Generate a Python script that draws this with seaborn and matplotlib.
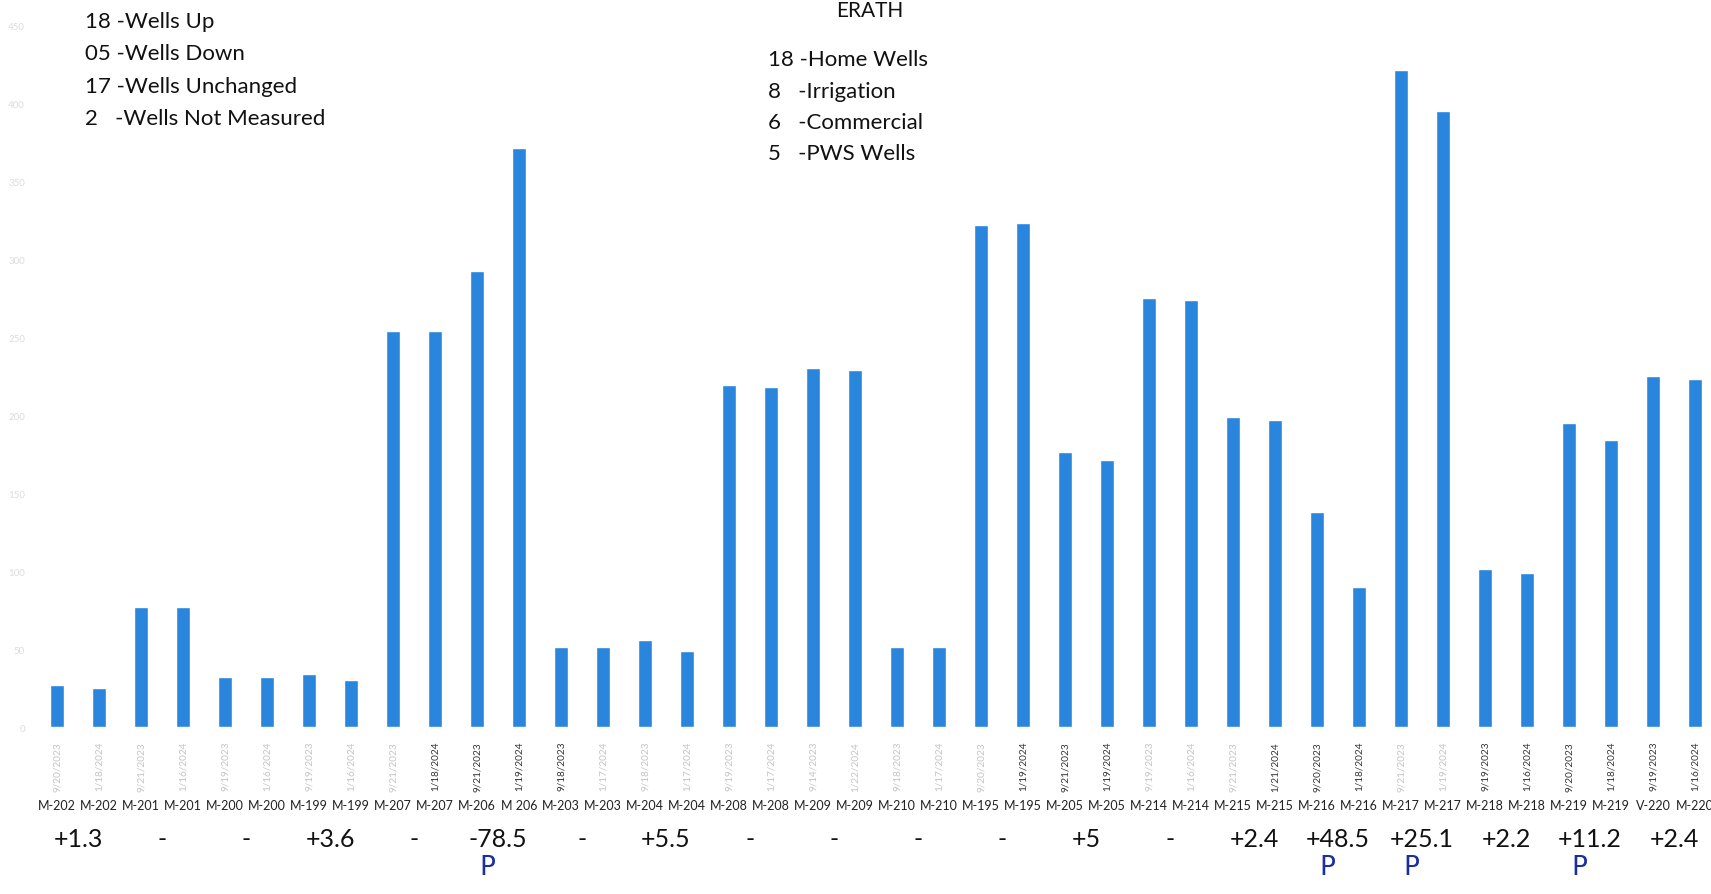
import matplotlib
matplotlib.use("Agg")
import matplotlib.pyplot as plt
import matplotlib.transforms as mtransforms
import seaborn as sns
import pandas as pd

wells = ["M-202", "M-202", "M-201", "M-201", "M-200", "M-200", "M-199", "M-199",
         "M-207", "M-207", "M-206", "M 206", "M-203", "M-203", "M-204", "M-204",
         "M-208", "M-208", "M-209", "M-209", "M-210", "M-210", "M-195", "M-195",
         "M-205", "M-205", "M-214", "M-214", "M-215", "M-215", "M-216", "M-216",
         "M-217", "M-217", "M-218", "M-218", "M-219", "M-219", "V-220", "M-220"]
dates = ["9/20/2023", "1/18/2024", "9/21/2023", "1/16/2024", "9/19/2023", "1/16/2024",
         "9/19/2023", "1/16/2024", "9/21/2023", "1/18/2024", "9/21/2023", "1/19/2024",
         "9/18/2023", "1/17/2024", "9/18/2023", "1/17/2024", "9/19/2023", "1/17/2024",
         "9/14/2023", "1/22/2024", "9/18/2023", "1/17/2024", "9/20/2023", "1/19/2024",
         "9/21/2023", "1/19/2024", "9/19/2023", "1/16/2024", "9/21/2023", "1/21/2024",
         "9/20/2023", "1/18/2024", "9/21/2023", "1/19/2024", "9/19/2023", "1/16/2024",
         "9/20/2023", "1/18/2024", "9/19/2023", "1/16/2024"]
values = [27, 25, 77, 77, 32, 32, 34, 30, 254, 254, 292, 371, 51, 51, 56, 49,
          219, 218, 230, 229, 51, 51, 322, 323, 176, 171, 275, 274, 199, 197,
          138, 90, 421, 395, 101, 99, 195, 184, 225, 223]
date_dark = [0, 0, 0, 0, 0, 0, 0, 0, 0, 1, 1, 1, 1, 0, 0, 0, 0, 0, 0, 0,
             0, 0, 0, 1, 1, 1, 0, 0, 0, 1, 1, 1, 0, 0, 1, 1, 1, 1, 1, 1]
changes = ["+1.3", "-", "-", "+3.6", "-", "-78.5", "-", "+5.5", "-", "-",
           "-", "-", "+5", "-", "+2.4", "+48.5", "+25.1", "+2.2", "+11.2", "+2.4"]
pumped = [False, False, False, False, False, True, False, False, False, False,
          False, False, False, False, False, True, True, False, True, False]
yticks = [0, 50, 100, 150, 200, 250, 300, 350, 400, 450]

left_lines = ["18 -Wells Up", "05 -Wells Down", "17 -Wells Unchanged", "2   -Wells Not Measured"]
title = "ERATH"
center_lines = ["18 -Home Wells", "8   -Irrigation", "6   -Commercial", "5   -PWS Wells"]

sns.set_theme(style="white")
plt.rcParams["font.family"] = ["Lato", "DejaVu Sans"]

W, H = 1711, 895
fig = plt.figure(figsize=(W / 100, H / 100), dpi=100)
fig.patch.set_facecolor("white")
ax_bottom = 728
ax_top = 26
ax_left = 36
ax = fig.add_axes([ax_left / W, 1 - ax_bottom / H, (W - ax_left) / W, (ax_bottom - ax_top) / H])

keys = [f"{w}|{d}|{i}" for i, (w, d) in enumerate(zip(wells, dates))]
df = pd.DataFrame({"key": keys, "value": values})
sns.barplot(data=df, x="key", y="value", order=keys, color="#2a86dc",
            saturation=1, width=0.35, ax=ax)

ax.set_xlim(-0.5, len(keys) - 0.62)
ax.set_ylim(0, 450)
ax.set_yticks(yticks)
ax.set_yticklabels([str(v) for v in yticks], color="#dcdcdc", fontsize=7)
ax.tick_params(axis="y", length=0, pad=8)
ax.set_xticks(range(len(keys)))
ax.set_xticklabels(dates, rotation=90, fontsize=7.2)
for lab, dk in zip(ax.get_xticklabels(), date_dark):
    lab.set_color("#333333" if dk else "#c4c4c4")
ax.tick_params(axis="x", length=0, pad=10)
ax.set_xlabel("")
ax.set_ylabel("")
for s in ax.spines.values():
    s.set_visible(False)

tr = mtransforms.blended_transform_factory(ax.transData, fig.transFigure)
for i, w in enumerate(wells):
    ax.text(i, 1 - 806 / H, w, transform=tr, ha="center", va="center",
            fontsize=9, color="#222222")
for k, (c, p) in enumerate(zip(changes, pumped)):
    xc = 2 * k + 0.5
    ax.text(xc, 1 - 840 / H, c, transform=tr, ha="center", va="center",
            fontsize=18, color="#111111")
    if p:
        ax.text(xc - 0.25, 1 - 868 / H, "P", transform=tr, ha="center", va="center",
                fontsize=19, color="#1b2fa0", family=["DejaVu Sans"])

for j, line in enumerate(left_lines):
    fig.text(85 / W, 1 - (22 + j * 32.5) / H, line, ha="left", va="center",
             fontsize=16, color="#111111")
fig.text(870 / W, 1 - 17 / H, title, ha="center", va="baseline",
         fontsize=15, color="#111111")
for j, line in enumerate(center_lines):
    fig.text(768 / W, 1 - (60 + j * 31.5) / H, line, ha="left", va="center",
             fontsize=16, color="#111111")

fig.savefig("out.png", dpi=100, facecolor="white")
